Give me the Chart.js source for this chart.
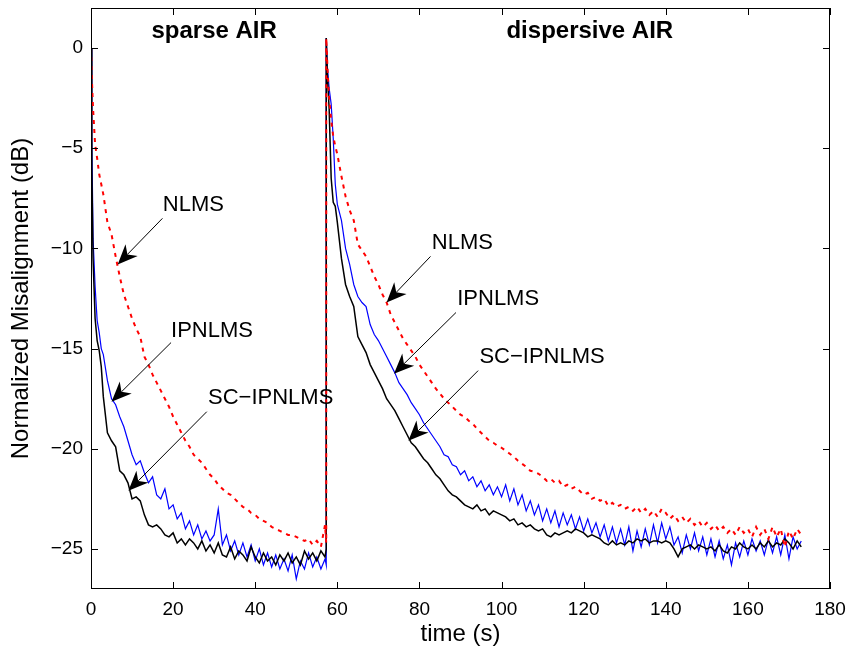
<!DOCTYPE html>
<html>
<head>
<meta charset="utf-8">
<script src="https://cdn.jsdelivr.net/npm/chart.js@4.4.1/dist/chart.umd.min.js"></script>
<style>
  body { margin: 0; background: #fff; }
</style>
</head>
<body>
<canvas id="misalignChart" width="851" height="650"></canvas>
<script>
// time axis (s) for the two runs
const timeSparse = [0, 0.2, 0.5, 1, 1.5, 2, 2.5, 3, 4, 5, 6, 7, 8, 9, 10, 11, 12, 13, 14, 15, 16, 17, 18, 19, 20,
  21, 22, 23, 24, 25, 26, 27, 28, 29, 30, 31, 32, 33, 34, 35, 36, 37, 38, 39, 40, 41, 42, 43, 44, 45, 46, 47, 48, 49, 50,
  51, 52, 53, 54, 55, 56, 57, 57.3]
const timeDispersive = [57.3, 57.6, 58, 58.5, 59, 59.5, 60, 61, 62, 63, 64, 65, 66, 67, 68, 69, 70,
  71, 72, 73, 74, 75, 76, 77, 78, 79, 80, 81, 82, 83, 84, 85, 86, 87, 88, 89, 90,
  91, 92, 93, 94, 95, 96, 97, 98, 99, 100, 101, 102, 103, 104, 105, 106, 107, 108, 109, 110,
  111, 112, 113, 114, 115, 116, 117, 118, 119, 120, 121, 122, 123, 124, 125, 126, 127, 128, 129, 130,
  131, 132, 133, 134, 135, 136, 137, 138, 139, 140, 141, 142, 143, 144, 145, 146, 147, 148, 149, 150,
  151, 152, 153, 154, 155, 156, 157, 158, 159, 160, 161, 162, 163, 164, 165, 166, 167, 168, 169, 170,
  171, 172, 173]

// NLMS (red dotted)
const nlmsSparse = [0, -1.5, -3.0, -4.8, -5.5, -6.3, -6.8, -7.3, -8.7, -9.3, -10.4, -11.4, -12.3, -12.9, -13.5, -14.0, -14.4, -15.4, -15.8, -16.3, -16.7, -17.1, -17.5, -17.9, -18.4,
  -18.8, -19.2, -19.6, -19.9, -20.3, -20.5, -20.7, -21.0, -21.3, -21.5, -21.8, -22.0, -22.2, -22.3, -22.5, -22.7, -22.9, -23.0, -23.2, -23.3, -23.5, -23.6, -23.7, -23.9, -24.0, -24.1, -24.2, -24.3, -24.3, -24.4,
  -24.5, -24.6, -24.5, -24.8, -24.6, -24.9, -23.8, -24.7]
const nlmsDispersive = [0.5, -1.0, -2.5, -3.6, -4.4, -4.9, -5.3, -6.4, -7.4, -8.1, -8.6, -9.8, -10.1, -10.4, -10.9, -11.4, -11.8,
  -12.3, -12.7, -13.3, -13.7, -14.1, -14.5, -14.8, -15.1, -15.4, -15.8, -16.1, -16.4, -16.7, -17.0, -17.25, -17.5, -17.7, -17.9, -18.1, -18.3,
  -18.4, -18.6, -18.75, -19.0, -19.2, -19.4, -19.6, -19.7, -19.85, -19.95, -20.1, -20.25, -20.4, -20.6, -20.75, -20.9, -21.1, -21.15, -21.25, -21.4,
  -21.6, -21.5, -21.7, -21.6, -21.9, -21.8, -22.0, -21.9, -22.1, -22.3, -22.2, -22.5, -22.4, -22.6, -22.5, -22.85, -22.7, -22.9, -22.8, -23.0,
  -22.9, -23.1, -22.9, -23.2, -23.0, -23.3, -23.1, -23.4, -23.0, -23.2, -23.5, -23.3, -23.6, -23.4, -23.7, -23.5, -23.8, -23.6, -23.9, -23.7,
  -24.0, -23.8, -24.1, -23.9, -24.2, -24.0, -24.3, -23.9, -24.2, -24.0, -24.4, -23.9, -24.3, -24.0, -24.5, -23.9, -24.4, -24.0, -24.9, -24.1,
  -24.5, -24.0, -24.3]

// IPNLMS (blue)
const ipnlmsSparse = [0, -4.5, -9.5, -11.9, -13.6, -14.2, -15.0, -15.3, -16.6, -17.5, -17.8, -18.4, -18.9, -19.6, -20.3, -20.8, -20.6, -21.2, -21.7, -21.4, -22.3, -22.5, -22.0, -23.0, -22.8,
  -23.5, -23.2, -24.0, -23.6, -24.3, -23.8, -24.5, -24.1, -24.6, -24.3, -23.0, -24.8, -24.3, -25.1, -24.6, -25.3, -24.7, -25.4, -24.8, -25.6, -25.0, -25.8, -25.2, -25.9, -25.3, -26.0, -25.5, -26.1, -25.3, -26.5,
  -25.6, -26.0, -25.2, -25.9, -25.4, -26.0, -25.5, -25.8]
const ipnlmsDispersive = [0.5, -1.0, -2.0, -2.8, -4.5, -6.8, -7.8, -8.6, -10.0, -10.8, -11.8, -12.4, -12.7, -12.9, -13.8, -14.3, -14.6,
  -15.0, -15.4, -15.8, -16.2, -16.7, -17.0, -17.3, -17.7, -18.0, -18.3, -18.7, -19.0, -19.3, -19.6, -19.9, -20.3, -20.4, -20.8, -20.9, -21.3,
  -21.1, -21.6, -21.4, -21.9, -21.6, -22.1, -21.8, -22.3, -21.9, -22.4, -21.8, -22.6, -22.0, -22.8, -22.3, -23.1, -22.6, -23.3, -22.8, -23.6,
  -23.0, -23.7, -23.1, -23.9, -23.2, -23.8, -23.3, -24.0, -23.4, -24.1, -23.5, -24.2, -23.7, -24.4, -23.8, -24.6, -23.9, -24.7, -24.0, -24.8,
  -23.9, -25.1, -24.1, -24.9, -24.0, -24.8, -23.8, -24.7, -23.7, -24.5, -23.9, -24.8, -24.4, -25.2, -24.3, -25.0, -24.2, -25.1, -24.4, -25.3,
  -24.5, -25.4, -24.6, -25.5, -24.8, -25.8, -24.7, -25.4, -24.6, -25.3, -24.5, -25.1, -24.6, -25.3, -24.5, -25.2, -24.4, -25.3, -24.3, -25.5,
  -24.4, -25.0, -24.6]

// SC-IPNLMS (black)
const scipnlmsSparse = [0, -6.0, -10.5, -13.5, -14.6, -15.1, -15.9, -17.4, -19.2, -19.6, -19.9, -21.1, -21.3, -21.7, -22.5, -22.4, -22.6, -23.3, -23.8, -23.9, -23.8, -24.0, -24.3, -24.4, -24.2,
  -24.7, -24.5, -24.8, -24.5, -24.7, -25.0, -24.6, -25.1, -24.8, -25.2, -24.7, -25.3, -25.4, -24.9, -25.5, -25.1, -25.3, -25.6, -24.9, -25.4, -25.7, -25.2, -25.6, -25.4, -25.8, -25.3, -25.6, -25.2, -25.7, -25.4,
  -25.8, -25.1, -25.5, -25.2, -25.6, -25.1, -25.4, -25.0]
const scipnlmsDispersive = [0.5, -1.5, -3.0, -6.5, -7.7, -7.9, -8.7, -10.5, -11.8, -12.4, -12.9, -14.4, -14.8, -15.2, -15.8, -16.2, -16.6,
  -17.0, -17.5, -17.8, -18.1, -18.5, -18.9, -19.3, -19.7, -19.9, -20.2, -20.5, -20.7, -21.0, -21.3, -21.5, -21.8, -22.1, -22.3, -22.4, -22.6,
  -22.8, -22.9, -23.0, -22.8, -23.1, -23.0, -23.3, -23.1, -23.2, -23.3, -23.4, -23.6, -23.5, -23.8, -23.7, -23.9, -23.8, -24.0, -24.1, -24.0,
  -24.3, -24.4, -24.2, -24.3, -24.2, -24.1, -24.2, -24.0, -24.1, -24.2, -24.4, -24.3, -24.4, -24.5, -24.7, -24.8, -24.6, -24.8, -24.7, -24.8,
  -24.6, -24.7, -24.5, -24.6, -24.5, -24.7, -24.6, -24.6, -24.7, -24.6, -24.7, -25.0, -25.4, -25.0, -24.9, -24.8, -25.0, -24.8, -24.9, -25.0,
  -24.9, -25.1, -24.8, -25.1, -25.2, -24.9, -25.0, -24.7, -24.9, -25.0, -24.8, -25.0, -24.7, -24.9, -24.6, -24.9, -24.7, -24.8, -24.5, -24.7,
  -25.0, -24.6, -24.9]

const yTicks = [-25, -20, -15, -10, -5, 0]

// text labels and arrows (data coords)
const regionTitles = ['sparse AIR', 'dispersive AIR']
const regionTitleX = [30, 121.5]
const regionTitleY = [0.85, 0.85]

const arrowLabels = ['NLMS', 'IPNLMS', 'SC\u2212IPNLMS', 'NLMS', 'IPNLMS', 'SC\u2212IPNLMS']
const labelX = [17.5, 19.5, 28.5, 83.0, 89.2, 94.6]
const labelY = [-7.85, -14.1, -17.45, -9.75, -12.5, -15.4]
const arrowFromX = [17.4, 19.5, 28.2, 82.7, 88.9, 94.3]
const arrowFromY = [-8.5, -14.7, -18.15, -10.4, -13.2, -16.1]
const arrowToX = [6.5, 5.0, 9.1, 72.0, 73.8, 77.3]
const arrowToY = [-10.8, -17.65, -22.1, -12.7, -16.25, -19.6]

const pairs = (ts, vs) => ts.map((t, i) => ({x: t, y: vs[i]}))

const FONT = "'Liberation Sans', Arial, Helvetica, sans-serif"

const overlay = {
    id: 'overlay',
    afterDraw(chart) {
        const ctx = chart.ctx
        const xs = chart.scales.x
        const ys = chart.scales.y
        const a = chart.chartArea
        ctx.save()
        // axes box + inward ticks
        ctx.strokeStyle = '#000'
        ctx.lineWidth = 1
        ctx.strokeRect(a.left + 0.5, a.top + 0.5, a.right - a.left - 1, a.bottom - a.top - 1)
        ctx.beginPath()
        for (let v = 0; v <= 180; v += 20) {
            const px = Math.round(xs.getPixelForValue(v)) + 0.5
            ctx.moveTo(px, a.bottom); ctx.lineTo(px, a.bottom - 7)
            ctx.moveTo(px, a.top); ctx.lineTo(px, a.top + 7)
        }
        yTicks.forEach(v => {
            const py = Math.round(ys.getPixelForValue(v)) + 0.5
            ctx.moveTo(a.left, py); ctx.lineTo(a.left + 7, py)
            ctx.moveTo(a.right, py); ctx.lineTo(a.right - 7, py)
        })
        ctx.stroke()

        // region titles
        ctx.fillStyle = '#000'
        ctx.font = 'bold 24px ' + FONT
        ctx.textAlign = 'center'
        ctx.textBaseline = 'middle'
        regionTitles.forEach((t, i) => {
            ctx.fillText(t, xs.getPixelForValue(regionTitleX[i]), ys.getPixelForValue(regionTitleY[i]))
        })

        // arrow labels
        ctx.font = '22px ' + FONT
        ctx.textAlign = 'left'
        arrowLabels.forEach((t, i) => {
            ctx.fillText(t, xs.getPixelForValue(labelX[i]), ys.getPixelForValue(labelY[i]))
            const x0 = xs.getPixelForValue(arrowFromX[i]), y0 = ys.getPixelForValue(arrowFromY[i])
            const x1 = xs.getPixelForValue(arrowToX[i]), y1 = ys.getPixelForValue(arrowToY[i])
            const len = Math.hypot(x1 - x0, y1 - y0)
            const ux = (x1 - x0) / len, uy = (y1 - y0) / len
            const nx = -uy, ny = ux
            const L = 20, W = 8.5
            ctx.beginPath()
            ctx.moveTo(x0, y0)
            ctx.lineTo(x1 - ux * L * 0.7, y1 - uy * L * 0.7)
            ctx.stroke()
            ctx.beginPath()
            ctx.moveTo(x1, y1)
            ctx.lineTo(x1 - ux * L + nx * W, y1 - uy * L + ny * W)
            ctx.lineTo(x1 - ux * L * 0.7, y1 - uy * L * 0.7)
            ctx.lineTo(x1 - ux * L - nx * W, y1 - uy * L - ny * W)
            ctx.closePath()
            ctx.fill()
        })
        ctx.restore()
    }
}

Chart.defaults.font.family = FONT
Chart.defaults.color = '#000'

const data = {
    datasets: [{
        label: 'NLMS',
        data: pairs(timeSparse, nlmsSparse).concat(pairs(timeDispersive, nlmsDispersive)),
        borderColor: '#ff0000',
        borderWidth: 2,
        borderDash: [4, 5]
    }, {
        label: 'SC-IPNLMS',
        data: pairs(timeSparse, scipnlmsSparse).concat(pairs(timeDispersive, scipnlmsDispersive)),
        borderColor: '#000000',
        borderWidth: 1.5
    }, {
        label: 'IPNLMS',
        data: pairs(timeSparse, ipnlmsSparse).concat(pairs(timeDispersive, ipnlmsDispersive)),
        borderColor: '#0000ff',
        borderWidth: 1.2
    }]
}

const config = {
    type: 'line',
    data: data,
    plugins: [overlay],
    options: {
        responsive: false,
        animation: false,
        devicePixelRatio: 1,
        layout: { padding: { left: 0, right: 21, top: 8, bottom: 0 } },
        elements: { point: { radius: 0 }, line: { tension: 0 } },
        plugins: { legend: { display: false }, tooltip: { enabled: false } },
        scales: {
            x: {
                type: 'linear',
                min: 0,
                max: 180,
                grid: { display: false, drawTicks: false },
                border: { display: false },
                ticks: { stepSize: 20, padding: 9, font: { size: 19 }, maxRotation: 0 },
                title: { display: true, text: 'time (s)', font: { size: 24 }, padding: { top: 0, bottom: 1 } },
                afterFit(scale) {
                    scale.height = 61
                    scale.paddingLeft = 0
                    scale.paddingRight = 0
                }
            },
            y: {
                type: 'linear',
                min: -27,
                max: 2,
                grid: { display: false, drawTicks: false },
                border: { display: false },
                afterBuildTicks(scale) { scale.ticks = yTicks.map(v => ({value: v})) },
                ticks: {
                    padding: 8,
                    font: { size: 19 },
                    callback: v => String(v).replace('-', '\u2212')
                },
                title: { display: true, text: 'Normalized Misalignment (dB)', font: { size: 24 }, padding: { top: 7, bottom: 0 } },
                afterFit(scale) {
                    scale.width = 91
                    scale.paddingTop = 0
                    scale.paddingBottom = 0
                }
            }
        }
    }
}

const myChart = new Chart(document.getElementById('misalignChart'), config)
</script>
</body>
</html>
